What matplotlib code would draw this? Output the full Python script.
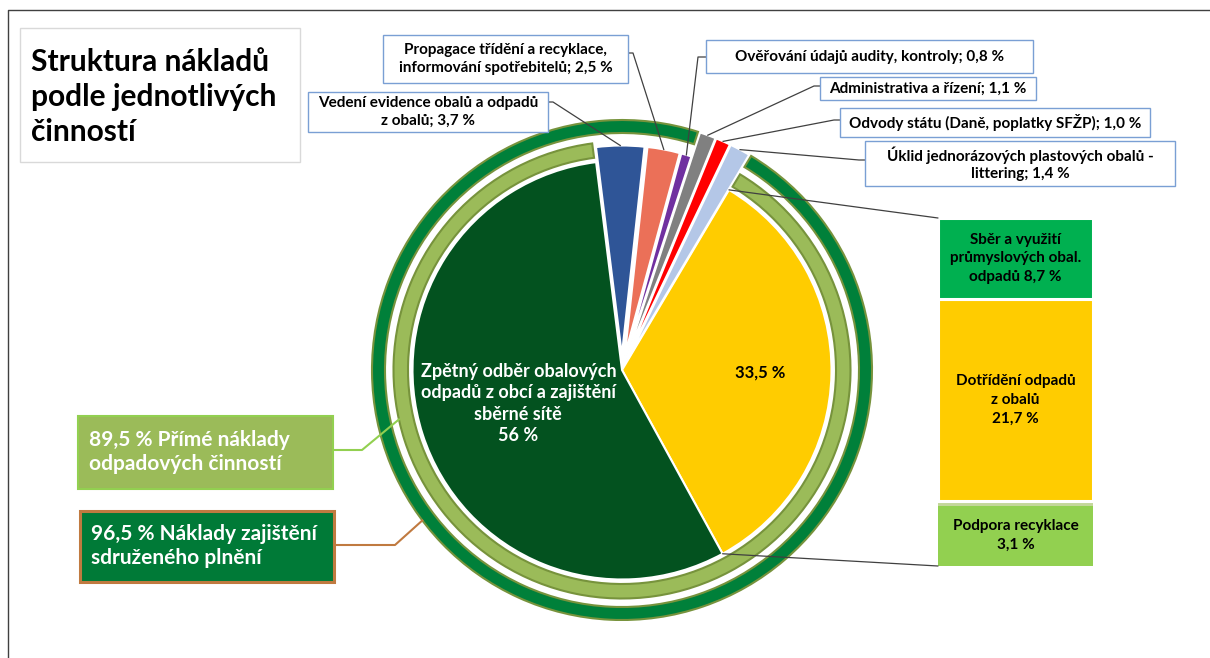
import numpy as np
import matplotlib.pyplot as plt
from matplotlib.patches import Wedge, Rectangle, ConnectionPatch

plt.rcParams['font.family'] = ['Lato', 'DejaVu Sans']
plt.rcParams['font.weight'] = 'bold'

# --- data ---
# slices of the pie, counter-clockwise from the bottom edge of the yellow slice
nazvy_kolac = ['Dotřídění, sběr a podpora recyklace',
               'Úklid jednorázových plastových obalů - littering',
               'Odvody státu (Daně, poplatky SFŽP)',
               'Administrativa a řízení',
               'Ověřování údajů audity, kontroly',
               'Propagace třídění a recyklace, informování spotřebitelů',
               'Vedení evidence obalů a odpadů z obalů',
               'Zpětný odběr obalových odpadů z obcí a zajištění sběrné sítě']
hodnoty_kolac = [33.5, 1.4, 1.0, 1.1, 0.8, 2.5, 3.7, 56.0]
barvy_kolac = ['#FFCC00', '#B4C7E7', '#FF0000', '#808080', '#7030A0',
               '#EB7058', '#2F5597', '#03521F']

# popisky (callouts)
popisky = {1: 'Úklid jednorázových plastových obalů -\nlittering; 1,4 %',
           2: 'Odvody státu (Daně, poplatky SFŽP); 1,0 %',
           3: 'Administrativa a řízení; 1,1 %',
           4: 'Ověřování údajů audity, kontroly; 0,8 %',
           5: 'Propagace třídění a recyklace,\ninformování spotřebitelů; 2,5 %',
           6: 'Vedení evidence obalů a odpadů\nz obalů; 3,7 %'}

# rozpad žlutého dílu (sloupec vpravo), zdola nahoru
nazvy_sloupec = ['Podpora recyklace\n3,1 %', '',
                 'Dotřídění odpadů\nz obalů\n21,7 %',
                 'Sběr a využití\nprůmyslových obal.\nodpadů 8,7 %']
hodnoty_sloupec = [6.5, 0.5, 21.7, 8.7]   # výšky
barvy_sloupec = ['#92D050', '#C4D79B', '#FFCC00', '#00B050']

# prstence: podíl a díly, které nepokrývají
prstence = [('89,5 % Přímé náklady\nodpadových činností', [1, 2, 3, 4, 5, 6]),
            ('96,5 % Náklady zajištění\nsdruženého plnění', [1, 2, 3])]

W, H = 1210, 658


def Y(py):
    """obrazová souřadnice y -> datová"""
    return H - py


fig = plt.figure(figsize=(W / 100, H / 100), dpi=100)
ax = fig.add_axes([0, 0, 1, 1])

START = -61.3
R = 209.5
CX, CY = 622, Y(370)

explode = [0, 12, 12, 12, 15, 15, 15, 0]
wedges, _ = ax.pie(hodnoty_kolac, colors=barvy_kolac, startangle=START,
                   counterclock=True, radius=R, center=(CX, CY),
                   explode=explode, frame=True,
                   wedgeprops=dict(edgecolor='white', linewidth=1.5))
# úzké díly sahají až k vnějšímu prstenci
for i in [1, 2, 3]:
    wedges[i].set_radius(238)

uhly = START + 3.6 * np.concatenate([[0], np.cumsum(hodnoty_kolac)])


def bod(i, r=None, uhel=None):
    w = wedges[i]
    if uhel is None:
        uhel = (uhly[i] + uhly[i + 1]) / 2
    if r is None:
        r = w.r
    t = np.deg2rad(uhel)
    return w.center[0] + r * np.cos(t), w.center[1] + r * np.sin(t)


# prstence
rozmery = [(228.5, 14.5, '#9BBB59'), (250, 13, '#00803A')]
for (txt, vynech), (ro, sirka, barva) in zip(prstence, rozmery):
    t1 = uhly[max(vynech) + 1] + 0.4
    t2 = uhly[min(vynech)] + 360 - 0.4
    ax.add_patch(Wedge((CX, CY), ro, t1, t2, width=sirka, facecolor=barva,
                       edgecolor='#77933C', linewidth=1.5))

# texty v koláči
t = np.deg2rad((uhly[7] + uhly[8]) / 2)
ax.text(CX + 0.52 * R * np.cos(t), CY + 0.52 * R * np.sin(t),
        'Zpětný odběr obalových\nodpadů z obcí a zajištění\nsběrné sítě\n56 %',
        color='white', fontsize=13, ha='center', va='center', linespacing=1.3)
t = np.deg2rad((uhly[0] + uhly[1]) / 2)
ax.text(CX + 0.66 * R * np.cos(t), CY + 0.66 * R * np.sin(t), '33,5 %',
        color='black', fontsize=12, ha='center', va='center')

# popisky s čarami
boxy = {6: (308, 92, 548, 132, 'r', 102, 553),
        5: (383, 35, 628, 83, 'r', 53, 633),
        4: (706, 40, 1033, 73, 'l', 57, 698),
        3: (820, 77, 1036, 100, 'l', 86, 814),
        2: (840, 108, 1150, 137, 'l', 120, 834),
        1: (865, 141, 1175, 186, 'l', 160, 859)}
for i, (x0, y0, x1, y1, strana, ya, xe) in boxy.items():
    ax.add_patch(Rectangle((x0, Y(y1)), x1 - x0, y1 - y0, facecolor='white',
                           edgecolor='#7A9FD4', linewidth=1, zorder=3))
    ax.text((x0 + x1) / 2, Y((y0 + y1) / 2), popisky[i], fontsize=11,
            ha='center', va='center', linespacing=1.3, zorder=4)
    xs = x1 if strana == 'r' else x0
    px, py = bod(i)
    ax.plot([xs, xe, px], [Y(ya), Y(ya), py], color='#404040', lw=0.9,
            zorder=2)

# sloupec vpravo
axb = fig.add_axes([938 / W, Y(566) / H, (1093 - 938) / W, (566 - 218) / H])
spodek = np.concatenate([[0], np.cumsum(hodnoty_sloupec)[:-1]])
axb.bar(0, hodnoty_sloupec, bottom=spodek, width=1, color=barvy_sloupec,
        edgecolor='white', linewidth=[0, 0, 2.2, 2.2])
for txt, v, b in zip(nazvy_sloupec, hodnoty_sloupec, spodek):
    if txt:
        axb.text(0, b + v / 2, txt, fontsize=11, ha='center', va='center',
                 linespacing=1.45)
axb.set_xlim(-0.5, 0.5)
axb.set_ylim(0, sum(hodnoty_sloupec))
axb.axis('off')

# spojnice žlutého dílu se sloupcem
for uhel, yb in [(uhly[1], sum(hodnoty_sloupec)), (uhly[0], 0)]:
    p = bod(0, R, uhel)
    con = ConnectionPatch(xyA=p, coordsA=ax.transData, xyB=(-0.5, yb),
                          coordsB=axb.transData, color='#404040', lw=0.9)
    fig.add_artist(con)

# levé popisky prstenců
leve = [((78, 416, 333, 489), '#9BBB59', '#92D050', 1.5, 450, 362, 192.5, 228.5),
        ((80, 511, 334, 582), '#007A37', '#C07A40', 2.2, 545, 395, 217, 250)]
for (txt, _), ((x0, y0, x1, y1), fc, ec, lw, ya, xe, uhel, r) in zip(prstence, leve):
    ax.add_patch(Rectangle((x0, Y(y1)), x1 - x0, y1 - y0, facecolor=fc,
                           edgecolor=ec, linewidth=lw, zorder=3))
    ax.text(x0 + 11, Y((y0 + y1) / 2), txt, color='white', fontsize=15,
            ha='left', va='center', linespacing=1.25, zorder=4)
    tt = np.deg2rad(uhel)
    ax.plot([x1, xe, CX + r * np.cos(tt)], [Y(ya), Y(ya), CY + r * np.sin(tt)],
            color=ec, lw=1.5, zorder=2)

# nadpis
ax.add_patch(Rectangle((20, Y(162)), 280, 134, facecolor='white',
                       edgecolor='#D9D9D9', linewidth=1))
ax.text(31, Y(97), 'Struktura nákladů\npodle jednotlivých\nčinností',
        fontsize=21.5, ha='left', va='center', linespacing=1.32)

# rámeček
ax.plot([8, 8, W], [0, Y(10), Y(10)], color='#404040', lw=1)

ax.set_xlim(0, W)
ax.set_ylim(0, H)
ax.set_aspect('auto')
ax.axis('off')

plt.savefig('out.png', dpi=100)
plt.close('all')
